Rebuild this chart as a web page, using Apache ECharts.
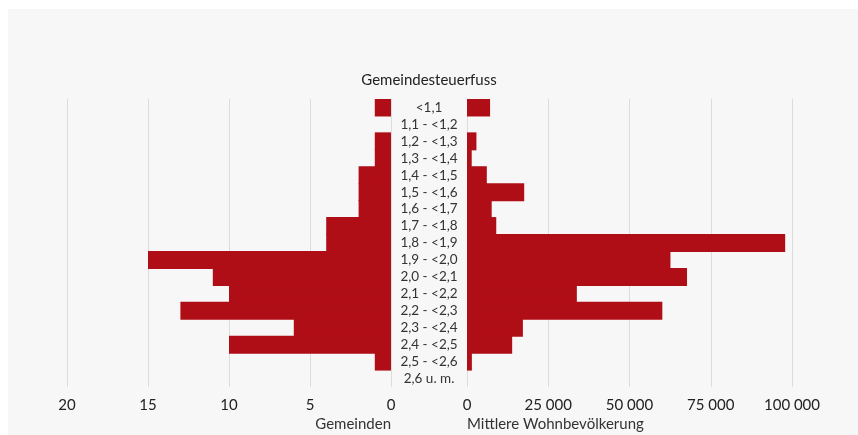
<!DOCTYPE html>
<html>
<head>
<meta charset="utf-8">
<script src="https://cdn.jsdelivr.net/npm/echarts@6/dist/echarts.min.js"></script>
<style>
html, body { margin: 0; padding: 0; background: #fff; }
#panel { position: absolute; left: 8px; top: 9px; right: 0; bottom: 0; background: #f7f7f7; }
#chart { position: absolute; left: 0; top: 0; width: 858px; height: 435px; }
</style>
</head>
<body>
<div id="panel"></div>
<div id="chart"></div>
<script>
// Gemeindesteuerfuss-Klassen
var categories = ['<1,1', '1,1 - <1,2', '1,2 - <1,3', '1,3 - <1,4', '1,4 - <1,5', '1,5 - <1,6',
    '1,6 - <1,7', '1,7 - <1,8', '1,8 - <1,9', '1,9 - <2,0', '2,0 - <2,1', '2,1 - <2,2',
    '2,2 - <2,3', '2,3 - <2,4', '2,4 - <2,5', '2,5 - <2,6', '2,6 u. m.'];
// Anzahl Gemeinden
var gemeinden = [1, 0, 1, 1, 2, 2, 2, 4, 4, 15, 11, 10, 13, 6, 10, 1, 0];
// Mittlere Wohnbevölkerung
var bevoelkerung = [7100, 0, 2900, 1450, 6100, 17600, 7600, 9000, 97900, 62600, 67700, 33800, 60100, 17200, 13900, 1500, 0];

var rot = '#b00e17';
var schrift = 'Lato';
var tickFont = {color: '#222', fontSize: 15, fontFamily: schrift, margin: 11};
var split = {show: true, lineStyle: {color: '#dcdcdc', width: 1}};

var chart = echarts.init(document.getElementById('chart'));
chart.setOption({
    backgroundColor: 'transparent',
    animation: false,
    title: {
        text: 'Gemeindesteuerfuss',
        left: 'center',
        top: 68,
        textStyle: {fontSize: 15, fontWeight: 'normal', color: '#222', fontFamily: schrift}
    },
    grid: [
        {left: 67, right: 467, top: 99, bottom: 48},
        {left: 467, right: 66, top: 99, bottom: 48}
    ],
    xAxis: [
        {
            gridIndex: 0, type: 'value', inverse: true, min: 0, max: 20, interval: 5,
            axisLine: {show: false}, axisTick: {show: false},
            splitLine: split, axisLabel: tickFont,
            name: 'Gemeinden', nameLocation: 'start', nameGap: 0,
            nameTextStyle: {color: '#333', fontSize: 15, fontFamily: schrift, align: 'right', verticalAlign: 'top', padding: [30, 0, 0, 0]}
        },
        {
            gridIndex: 1, type: 'value', min: 0, max: 100000, interval: 25000,
            axisLine: {show: false}, axisTick: {show: false},
            splitLine: split,
            axisLabel: Object.assign({}, tickFont, {
                formatter: function (v) { return v >= 1000 ? String(v).replace(/\B(?=(\d{3})+(?!\d))/g, ' ') : String(v); }
            }),
            name: 'Mittlere Wohnbevölkerung', nameLocation: 'start', nameGap: 0,
            nameTextStyle: {color: '#333', fontSize: 15, fontFamily: schrift, align: 'left', verticalAlign: 'top', padding: [30, 0, 0, 0]}
        }
    ],
    yAxis: [
        {
            gridIndex: 0, type: 'category', data: categories, inverse: true,
            axisLine: {show: false}, axisTick: {show: false}, axisLabel: {show: false}
        },
        {
            gridIndex: 1, type: 'category', data: categories, inverse: true,
            axisLine: {show: false}, axisTick: {show: false},
            axisLabel: {color: '#333', fontSize: 13.5, fontFamily: schrift, align: 'center', margin: 38, interval: 0}
        }
    ],
    series: [
        {
            name: 'Gemeinden', type: 'bar', xAxisIndex: 0, yAxisIndex: 0,
            data: gemeinden, barWidth: 18,
            itemStyle: {color: rot}
        },
        {
            name: 'Mittlere Wohnbevölkerung', type: 'bar', xAxisIndex: 1, yAxisIndex: 1,
            data: bevoelkerung, barWidth: 18,
            itemStyle: {color: rot}
        }
    ]
});
</script>
</body>
</html>
